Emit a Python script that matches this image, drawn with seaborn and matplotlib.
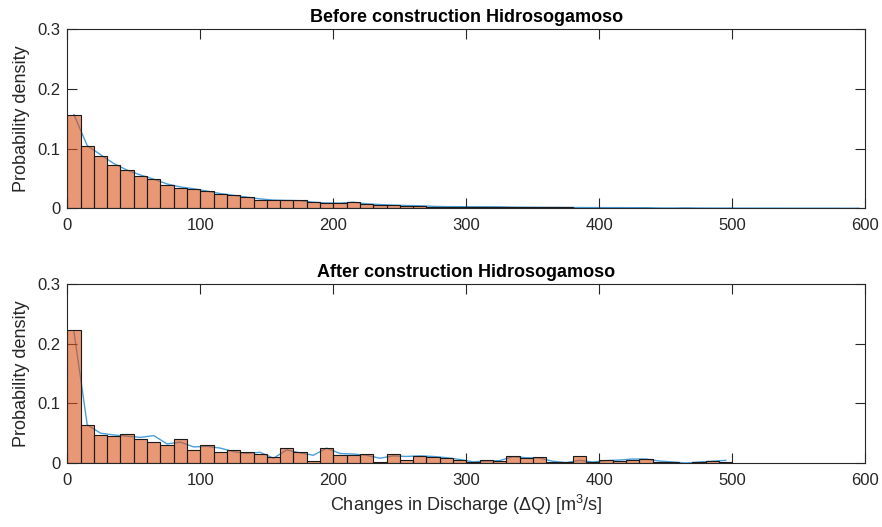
import numpy as np
import pandas as pd
import matplotlib
matplotlib.use("Agg")
import matplotlib.pyplot as plt
import seaborn as sns

# Bin layout: 10 m3/s bins from 0 to 600
bin_width = 10
bin_range = (0, 600)
bin_centers = np.arange(5, 600, 10)

# Relative frequency per bin, before the dam
before_prob = [
    0.157, 0.105, 0.088, 0.072, 0.064, 0.055, 0.049, 0.040, 0.035, 0.033,
    0.030, 0.025, 0.023, 0.019, 0.015, 0.0134, 0.0134, 0.0134, 0.010, 0.0087,
    0.0088, 0.0110, 0.0070, 0.0064, 0.0053, 0.0047, 0.0047, 0.0030, 0.0030, 0.0030,
    0.0030, 0.0030, 0.0030, 0.0020, 0.0020, 0.0020, 0.0020, 0.0019, 0.0016, 0.0015,
    0.0014, 0.0014, 0.0014, 0.0014, 0.0, 0.0, 0.0014, 0.0, 0.0, 0.0,
    0.0, 0.0, 0.0, 0.0, 0.0, 0.0, 0.0, 0.0, 0.0, 0.0,
]

# Smoothed density curve, before the dam (evaluated at bin centres)
before_curve = [
    0.157, 0.105, 0.090, 0.075, 0.064, 0.056, 0.049, 0.041, 0.036, 0.033,
    0.029, 0.025, 0.022, 0.019, 0.016, 0.014, 0.0135, 0.013, 0.0105, 0.0092,
    0.0090, 0.0105, 0.0078, 0.0066, 0.0056, 0.0050, 0.0045, 0.0036, 0.0031, 0.0030,
    0.0029, 0.0028, 0.0027, 0.0022, 0.0020, 0.0019, 0.0018, 0.0017, 0.0016, 0.0015,
    0.0014, 0.0014, 0.0013, 0.0013, 0.0009, 0.0008, 0.0010, 0.0008, 0.0007, 0.0007,
    0.0006, 0.0006, 0.0006, 0.0006, 0.0005, 0.0005, 0.0005, 0.0005, 0.0004, 0.0004,
]

# Relative frequency per bin, after the dam
after_prob = [
    0.223, 0.064, 0.047, 0.045, 0.048, 0.041, 0.036, 0.031, 0.041, 0.021,
    0.031, 0.018, 0.021, 0.018, 0.0145, 0.0106, 0.026, 0.018, 0.0034, 0.026,
    0.014, 0.013, 0.0145, 0.002, 0.0145, 0.0047, 0.0123, 0.0106, 0.0084, 0.0045,
    0.0022, 0.0045, 0.0042, 0.0123, 0.0085, 0.0103, 0.0018, 0.0010, 0.011, 0.0012,
    0.0056, 0.0032, 0.0047, 0.0067, 0.0025, 0.0025, 0.0, 0.0012, 0.0035, 0.0022,
    0.0, 0.0, 0.0, 0.0, 0.0, 0.0, 0.0, 0.0, 0.0, 0.0,
]

# Smoothed density curve, after the dam (ends at 495)
after_curve = [
    0.220, 0.064, 0.050, 0.047, 0.045, 0.043, 0.046, 0.032, 0.035, 0.027,
    0.028, 0.025, 0.019, 0.016, 0.018, 0.008, 0.022, 0.017, 0.013, 0.025,
    0.016, 0.015, 0.013, 0.008, 0.012, 0.011, 0.012, 0.011, 0.009, 0.006,
    0.002, 0.0034, 0.004, 0.0106, 0.0089, 0.0084, 0.003, 0.0006, 0.0045, 0.0017,
    0.004, 0.005, 0.0067, 0.0067, 0.0034, 0.0017, 0.0, 0.0017, 0.003, 0.0045,
]

titles = ["Before construction Hidrosogamoso", "After construction Hidrosogamoso"]
x_ticks = [0, 100, 200, 300, 400, 500, 600]
y_ticks = [0, 0.1, 0.2, 0.3]
y_tick_labels = ["0", "0.1", "0.2", "0.3"]
y_label = "Probability density"
x_label = "Changes in Discharge (ΔQ) [m$^3$/s]"

bar_face = (0.851, 0.325, 0.098, 0.6)
curve_color = "#4a9fdc"
axis_color = "#262626"

plt.rcParams["font.family"] = ["Liberation Sans", "DejaVu Sans"]
plt.rcParams["mathtext.fontset"] = "custom"
plt.rcParams["mathtext.rm"] = "Liberation Sans"
plt.rcParams["mathtext.default"] = "regular"
plt.rcParams["axes.edgecolor"] = axis_color
plt.rcParams["xtick.color"] = axis_color
plt.rcParams["ytick.color"] = axis_color

fig = plt.figure(figsize=(8.82, 5.27), dpi=100)
ax_top = fig.add_axes([0.0763, 0.6044, 0.9048, 0.3406])
ax_bot = fig.add_axes([0.0763, 0.1214, 0.9048, 0.3397])

panels = [
    (ax_top, before_prob, before_curve, titles[0]),
    (ax_bot, after_prob, after_curve, titles[1]),
]

for ax, probs, curve, title in panels:
    hist_df = pd.DataFrame({"dq": bin_centers, "p": probs})
    curve_df = pd.DataFrame({"dq": bin_centers[:len(curve)], "p": curve})

    sns.lineplot(data=curve_df, x="dq", y="p", ax=ax, color=curve_color,
                 linewidth=1.0, zorder=1)
    sns.histplot(data=hist_df, x="dq", weights="p", binwidth=bin_width,
                 binrange=bin_range, ax=ax, stat="count", zorder=2)
    for patch in ax.patches:
        if patch.get_height() > 0:
            patch.set_alpha(None)
            patch.set_facecolor(bar_face)
            patch.set_edgecolor("#1a1a1a")
            patch.set_linewidth(0.8)
        else:
            patch.set_visible(False)

    ax.set_xlim(0, 600)
    ax.set_ylim(0, 0.3)
    ax.set_xticks(x_ticks)
    ax.set_yticks(y_ticks)
    ax.set_yticklabels(y_tick_labels)
    ax.tick_params(direction="in", top=True, right=True, length=7, width=0.8,
                   labelsize=12, labelcolor=axis_color)
    ax.tick_params(axis="x", pad=7)
    ax.tick_params(axis="y", pad=5)
    for spine in ax.spines.values():
        spine.set_linewidth(0.8)
        spine.set_visible(True)
    ax.set_title(title, fontsize=13, fontweight="bold", color="black", pad=5)
    ax.set_ylabel(y_label, fontsize=13, color=axis_color, labelpad=5)
    ax.set_xlabel("")

ax_bot.set_xlabel(x_label, fontsize=13, color=axis_color, labelpad=4)

fig.savefig("out.png", dpi=100)
